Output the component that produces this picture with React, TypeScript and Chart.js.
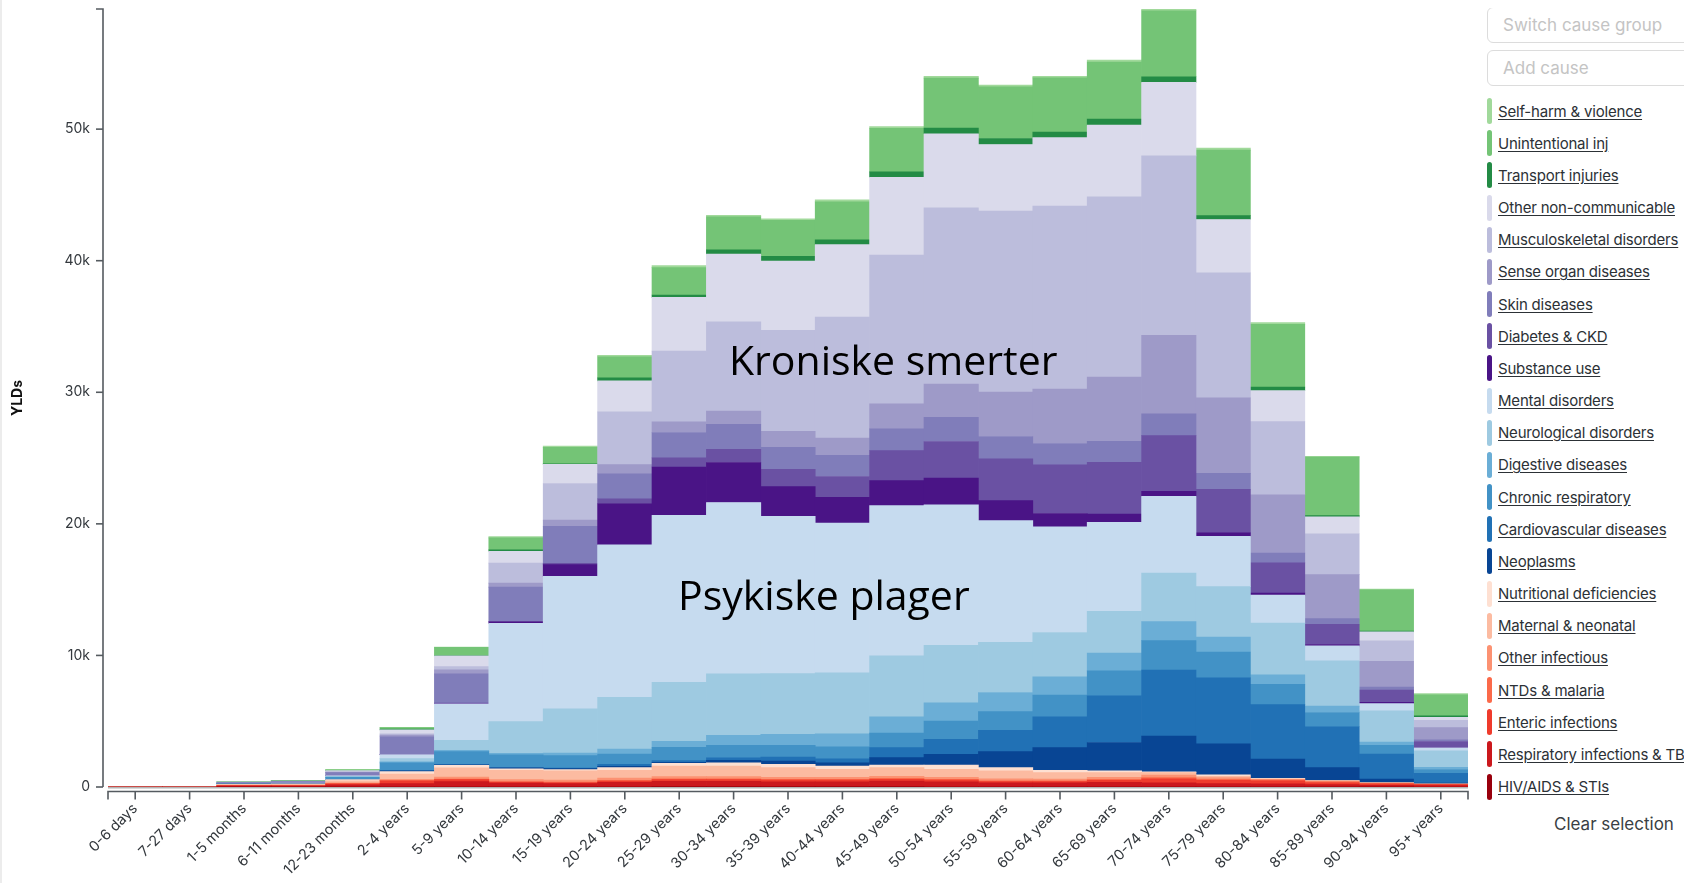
import React, { useEffect, useRef } from "react";
import { Chart, registerables } from "chart.js";

Chart.register(...registerables);

const ageGroups = [
  "0-6 days", "7-27 days", "1-5 months", "6-11 months", "12-23 months",
  "2-4 years", "5-9 years", "10-14 years", "15-19 years", "20-24 years",
  "25-29 years", "30-34 years", "35-39 years", "40-44 years", "45-49 years",
  "50-54 years", "55-59 years", "60-64 years", "65-69 years", "70-74 years",
  "75-79 years", "80-84 years", "85-89 years", "90-94 years", "95+ years",
];

// values per age group, bottom of the stack first
const hivAidsStis = [0, 0, 5, 5, 10, 10, 10, 10, 10, 20, 30, 30, 30, 30, 30, 20, 20, 20, 20, 20, 10, 10, 5, 5, 2];
const respiratoryInfTb = [2, 3, 60, 60, 150, 250, 400, 280, 250, 330, 400, 400, 370, 370, 420, 370, 290, 290, 330, 300, 250, 230, 170, 120, 100];
const entericInfections = [0, 0, 40, 50, 80, 200, 150, 80, 80, 100, 130, 130, 120, 120, 140, 130, 100, 100, 160, 300, 250, 220, 170, 110, 80];
const ntdsMalaria = [0, 0, 5, 5, 20, 30, 50, 30, 40, 60, 70, 70, 60, 60, 70, 60, 50, 50, 70, 90, 80, 60, 45, 25, 18];
const otherInfectious = [0, 0, 20, 20, 50, 100, 140, 160, 140, 160, 160, 160, 150, 160, 160, 160, 160, 150, 150, 200, 130, 60, 60, 40, 20];
const maternalNeonatal = [3, 5, 60, 50, 150, 400, 700, 700, 700, 600, 800, 800, 740, 600, 650, 600, 600, 480, 360, 180, 100, 40, 20, 10, 5];
const nutritionalDef = [0, 0, 40, 60, 100, 180, 200, 120, 100, 200, 200, 250, 250, 250, 200, 330, 250, 180, 130, 60, 100, 40, 20, 10, 5];
const neoplasms = [0, 0, 5, 5, 10, 50, 30, 70, 80, 100, 80, 180, 250, 250, 560, 810, 1220, 1720, 2160, 2720, 2360, 1470, 980, 290, 60];
const cardiovascular = [0, 0, 5, 5, 10, 30, 30, 30, 30, 150, 130, 200, 300, 300, 760, 1140, 1620, 2340, 3550, 5020, 5010, 4130, 3110, 1900, 750];
const chronicRespiratory = [0, 0, 10, 20, 150, 580, 980, 960, 960, 790, 1010, 940, 890, 910, 1100, 1390, 1420, 1650, 1900, 2230, 1970, 1540, 1080, 650, 290];
const digestiveDiseases = [0, 0, 5, 5, 20, 80, 100, 120, 180, 380, 460, 760, 840, 990, 1240, 1390, 1450, 1390, 1350, 1450, 1140, 720, 490, 260, 160];
const neurologicalDisorders = [0, 0, 20, 20, 60, 250, 750, 2410, 3370, 3930, 4490, 4690, 4620, 4640, 4640, 4360, 3810, 3370, 3170, 3680, 3830, 3930, 3440, 2360, 1250];
const mentalDisorders = [0, 0, 0, 0, 50, 300, 2790, 7460, 10070, 11590, 12680, 13010, 11950, 11380, 11420, 10680, 9260, 8040, 6770, 5840, 3830, 2130, 1140, 560, 230];
const substanceUse = [0, 0, 0, 0, 0, 0, 20, 120, 890, 3120, 3680, 3040, 2260, 1960, 1900, 2030, 1520, 1010, 630, 380, 260, 160, 100, 100, 30];
const diabetesCkd = [0, 0, 0, 0, 0, 10, 20, 30, 100, 380, 690, 1010, 1320, 1580, 2280, 2790, 3170, 3700, 3930, 4240, 3310, 2290, 1540, 920, 460];
const skinDiseases = [0, 0, 60, 110, 230, 1350, 2230, 2610, 2820, 1900, 1930, 1900, 1670, 1600, 1650, 1830, 1700, 1620, 1600, 1650, 1210, 750, 430, 230, 130];
const senseOrgan = [0, 0, 5, 10, 40, 120, 300, 300, 460, 690, 810, 1010, 1220, 1320, 1900, 2540, 3370, 4140, 4870, 5960, 5730, 4420, 3340, 1970, 920];
const musculoskeletal = [0, 0, 0, 0, 30, 100, 250, 1520, 2790, 4010, 5380, 6770, 7660, 9200, 11310, 13390, 13770, 13900, 13700, 13650, 9500, 5570, 3110, 1540, 560];
const otherNonCommunicable = [0, 0, 30, 30, 80, 300, 810, 910, 1450, 2360, 4080, 5150, 5270, 5500, 5910, 5630, 5050, 5200, 5450, 5580, 4060, 2360, 1280, 690, 230];
const transportInjuries = [0, 0, 5, 5, 10, 70, 30, 100, 50, 230, 180, 330, 360, 360, 410, 430, 460, 430, 460, 430, 290, 260, 100, 60, 100];
const unintentionalInj = [0, 0, 20, 15, 50, 100, 630, 910, 1240, 1600, 2080, 2510, 2740, 2890, 3320, 3800, 3930, 4110, 4340, 5020, 4980, 4780, 4450, 3140, 1600];
const selfHarmViolence = [0, 0, 5, 5, 40, 20, 20, 100, 100, 100, 150, 100, 120, 150, 130, 130, 130, 130, 150, 130, 160, 130, 60, 60, 100];

const seriesLabels = [
  "HIV/AIDS & STIs", "Respiratory infections & TB", "Enteric infections", "NTDs & malaria",
  "Other infectious", "Maternal & neonatal", "Nutritional deficiencies", "Neoplasms",
  "Cardiovascular diseases", "Chronic respiratory", "Digestive diseases", "Neurological disorders",
  "Mental disorders", "Substance use", "Diabetes & CKD", "Skin diseases", "Sense organ diseases",
  "Musculoskeletal disorders", "Other non-communicable", "Transport injuries", "Unintentional inj",
  "Self-harm & violence",
];
const seriesValues = [
  hivAidsStis, respiratoryInfTb, entericInfections, ntdsMalaria, otherInfectious, maternalNeonatal,
  nutritionalDef, neoplasms, cardiovascular, chronicRespiratory, digestiveDiseases, neurologicalDisorders,
  mentalDisorders, substanceUse, diabetesCkd, skinDiseases, senseOrgan, musculoskeletal,
  otherNonCommunicable, transportInjuries, unintentionalInj, selfHarmViolence,
];
const seriesColors = [
  "#99000d", "#cb181d", "#ef3b2c", "#fb6a4a", "#fc9272", "#fcbba1", "#fee0d2", "#084594",
  "#2171b5", "#4292c6", "#6baed6", "#9ecae1", "#c6dbef", "#4a1486", "#6a51a3", "#807dba",
  "#9e9ac8", "#bcbddc", "#dadaeb", "#238b45", "#74c476", "#a1d99b",
];
const yTickValues = [0, 10000, 20000, 30000, 40000, 50000];
const yTickLabels = ["0", "10k", "20k", "30k", "40k", "50k"];

const FONT = "Inter, 'Noto Sans', sans-serif";
const CANVAS_W = 1470;
const CANVAS_H = 867;

const axesPlugin = {
  id: "customAxes",
  beforeDatasetsDraw(chart: any) {
    const { ctx, chartArea, scales } = chart;
    const y0 = scales.y.getPixelForValue(0);
    ctx.save();
    ctx.strokeStyle = "#b4b4b4";
    ctx.lineWidth = 2;
    ctx.beginPath();
    ctx.moveTo(chartArea.left, y0 + 0.5);
    ctx.lineTo(chartArea.right, y0 + 0.5);
    ctx.stroke();
    ctx.restore();
  },
  afterDraw(chart: any) {
    const { ctx, chartArea, scales } = chart;
    const xs = scales.x;
    const ys = scales.y;
    const y0 = ys.getPixelForValue(0);
    ctx.save();
    ctx.strokeStyle = "#555b60";
    ctx.lineWidth = 1.6;
    const ax = chartArea.left - 5;
    ctx.beginPath();
    ctx.moveTo(ax - 7, chartArea.top);
    ctx.lineTo(ax, chartArea.top);
    ctx.lineTo(ax, y0);
    ctx.stroke();
    yTickValues.forEach((v) => {
      const py = ys.getPixelForValue(v);
      ctx.beginPath();
      ctx.moveTo(ax - 7, py);
      ctx.lineTo(ax, py);
      ctx.stroke();
    });
    const ay = y0 + 4.5;
    ctx.beginPath();
    ctx.moveTo(chartArea.left, ay + 8);
    ctx.lineTo(chartArea.left, ay);
    ctx.lineTo(chartArea.right, ay);
    ctx.lineTo(chartArea.right, ay + 8);
    ctx.stroke();
    ageGroups.forEach((_, i) => {
      const px = xs.getPixelForValue(i);
      ctx.beginPath();
      ctx.moveTo(px, ay);
      ctx.lineTo(px, ay + 8);
      ctx.stroke();
    });
    ctx.restore();
  },
};

const legendBox: React.CSSProperties = {
  position: "absolute",
  left: 1479,
  width: 240,
  height: 36,
  border: "1px solid #dcdcdc",
  borderRadius: 6,
  boxSizing: "border-box",
  paddingLeft: 15,
  display: "flex",
  alignItems: "center",
  color: "#c4c4c4",
  fontFamily: FONT,
  fontSize: 17,
  background: "#fff",
};

export default function App() {
  const canvasRef = useRef<HTMLCanvasElement | null>(null);

  useEffect(() => {
    if (!canvasRef.current) return;
    const totals = ageGroups.map((_, i) => seriesValues.reduce((s, arr) => s + arr[i], 0));
    const yMax = Math.max(...totals);
    const chart = new Chart(canvasRef.current, {
      type: "bar",
      data: {
        labels: ageGroups,
        datasets: seriesLabels.map((label, k) => ({
          label,
          data: seriesValues[k],
          backgroundColor: seriesColors[k],
          borderWidth: 0,
          barPercentage: 1,
          categoryPercentage: 1,
        })),
      },
      options: {
        responsive: false,
        animation: false,
        devicePixelRatio: 1,
        layout: { padding: { left: 0, right: 10, top: 1, bottom: 0 } },
        plugins: { legend: { display: false }, tooltip: { enabled: false } },
        scales: {
          x: {
            stacked: true,
            offset: true,
            grid: { display: false, drawTicks: false },
            border: { display: false },
            ticks: {
              autoSkip: false,
              maxRotation: 45,
              minRotation: 45,
              padding: 13,
              color: "#33383d",
              font: { family: FONT, size: 14.5 },
            },
            afterFit: (scale: any) => {
              scale.height = 88;
            },
          },
          y: {
            stacked: true,
            min: 0,
            max: yMax,
            grid: { display: false, drawTicks: false },
            border: { display: false },
            afterBuildTicks: (scale: any) => {
              scale.ticks = yTickValues.map((v) => ({ value: v }));
            },
            ticks: {
              autoSkip: false,
              padding: 18,
              color: "#33383d",
              font: { family: FONT, size: 14 },
              callback: (v: any) => {
                const idx = yTickValues.indexOf(Number(v));
                return idx >= 0 ? yTickLabels[idx] : "";
              },
            },
            title: {
              display: true,
              text: "YLDs",
              color: "#111",
              font: { family: FONT, size: 14, weight: "bold" },
              padding: { top: 1, bottom: 0 },
            },
            afterFit: (scale: any) => {
              scale.width = 100;
              scale.paddingTop = 0;
              scale.paddingBottom = 0;
            },
          },
        },
      },
      plugins: [axesPlugin],
    });
    return () => chart.destroy();
  }, []);

  const legendOrder = seriesLabels.map((l, k) => ({ label: l, color: seriesColors[k] })).reverse();

  return (
    <div style={{ position: "relative", width: 1676, height: CANVAS_H, overflow: "hidden" }}>
      <div style={{ position: "fixed", left: 0, top: 0, width: 2, height: "100%", background: "#ececec" }} />
      <canvas ref={canvasRef} width={CANVAS_W} height={CANVAS_H} style={{ position: "absolute", left: 0, top: 0 }} />
      <div
        style={{
          position: "absolute", left: 721, top: 331, fontFamily: "'Open Sans', sans-serif",
          fontSize: 41, lineHeight: "40px", color: "#000", whiteSpace: "nowrap",
        }}
      >
        Kroniske smerter
      </div>
      <div
        style={{
          position: "absolute", left: 670, top: 566, fontFamily: "'Open Sans', sans-serif",
          fontSize: 41, lineHeight: "40px", color: "#000", whiteSpace: "nowrap",
        }}
      >
        Psykiske plager
      </div>
      <div style={{ ...legendBox, top: -1 }}>Switch cause group</div>
      <div style={{ ...legendBox, top: 42 }}>Add cause</div>
      {legendOrder.map((item, i) => (
        <div
          key={item.label}
          style={{
            position: "absolute", left: 1479, top: 90 + i * 32.17, height: 26,
            display: "flex", alignItems: "center", whiteSpace: "nowrap",
          }}
        >
          <div style={{ width: 5, height: 26, borderRadius: 3, background: item.color }} />
          <span
            style={{
              marginLeft: 6, fontFamily: FONT, fontSize: 15, color: "#2c3136",
              textDecoration: "underline", textUnderlineOffset: 2, letterSpacing: -0.2,
            }}
          >
            {item.label}
          </span>
        </div>
      ))}
      <div
        style={{
          position: "absolute", left: 1546, top: 806, fontFamily: FONT, fontSize: 17,
          color: "#3a3f44", whiteSpace: "nowrap",
        }}
      >
        Clear selection
      </div>
    </div>
  );
}
